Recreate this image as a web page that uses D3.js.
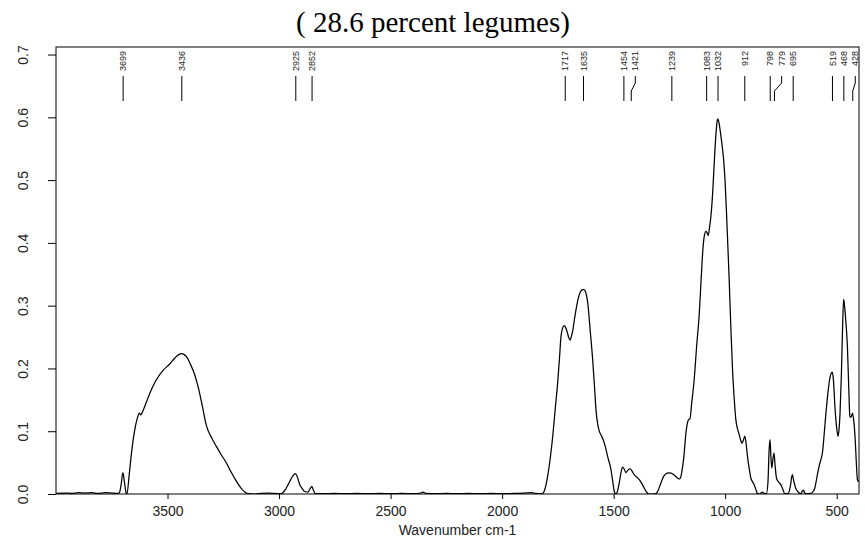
<!DOCTYPE html>
<html>
<head>
<meta charset="utf-8">
<script src="https://cdn.jsdelivr.net/npm/d3@7"></script>
<style>
  html, body { margin: 0; padding: 0; background: #fff; }
  svg { display: block; }
</style>
</head>
<body>
<div id="chart"></div>
<script>
/* Spectrum (wavenumber cm-1, absorbance) */
var wavenumber = [
  4000, 3960, 3930, 3900, 3870, 3840, 3810, 3780, 3750, 3725, 3716, 3708, 3700, 3693, 3686, 3682,
  3672, 3660, 3648, 3636, 3626, 3620, 3612, 3595, 3579, 3550, 3520, 3490, 3467, 3450, 3437, 3425,
  3410, 3400, 3380, 3363, 3345, 3325, 3300, 3281, 3260, 3236, 3215, 3191, 3165, 3139, 3110, 3080,
  3050, 3020, 2995, 2987, 2970, 2952, 2938, 2927, 2918, 2907, 2895, 2885, 2870, 2860, 2853, 2846,
  2837, 2800, 2750, 2700, 2650, 2600, 2550, 2500, 2450, 2400, 2370, 2355, 2340, 2300, 2250, 2200,
  2150, 2100, 2050, 2000, 1950, 1900, 1870, 1850, 1830, 1818, 1808, 1796, 1785, 1773, 1762, 1751,
  1743, 1736, 1728, 1721, 1715, 1709, 1702, 1695, 1689, 1684, 1675, 1666, 1654, 1645, 1639, 1633,
  1627, 1616, 1605, 1594, 1586, 1579, 1571, 1564, 1555, 1546, 1537, 1527, 1512, 1504, 1497, 1490,
  1484, 1475, 1466, 1460, 1453, 1445, 1436, 1427, 1418, 1408, 1396, 1385, 1374, 1363, 1352, 1343,
  1325, 1310, 1300, 1288, 1276, 1265, 1254, 1243, 1232, 1221, 1212, 1206, 1200, 1194, 1185, 1176,
  1168, 1162, 1158, 1150, 1139, 1128, 1116, 1108, 1101, 1094, 1086, 1080, 1076, 1070, 1064, 1056,
  1049, 1042, 1036, 1033, 1028, 1019, 1012, 1007, 1000, 994, 988, 982, 975, 967, 960, 952,
  944, 937, 930, 925, 918, 912, 906, 900, 892, 885, 878, 870, 862, 855, 845, 838,
  833, 826, 815, 808, 803, 799, 795, 791, 786, 781, 776, 770, 760, 750, 742, 733,
  717, 708, 699, 692, 684, 672, 661, 655, 650, 645, 639, 616, 606, 598, 588, 579,
  570, 564, 555, 548, 541, 532, 525, 520, 515, 507, 500, 494, 489, 485, 479, 474,
  469, 465, 459, 452, 446, 441, 436, 429, 424, 417, 412, 407, 402, 400
];
var absorbance = [
  0.001, 0.0015, 0.001, 0.002, 0.0015, 0.002, 0.001, 0.002, 0.0015, 0.001, 0.002, 0.015, 0.034, 0.018, 0.002, 0,
  0.03, 0.07, 0.1, 0.12, 0.129, 0.126, 0.131, 0.146, 0.161, 0.182, 0.197, 0.207, 0.2167, 0.222, 0.2236, 0.222,
  0.216, 0.2087, 0.192, 0.171, 0.142, 0.108, 0.088, 0.0758, 0.063, 0.0494, 0.035, 0.0201, 0.007, 0.0005, 0, 0.001,
  0.0015, 0.001, 0.0005, 0.001, 0.008, 0.02, 0.029, 0.0325, 0.027, 0.0148, 0.008, 0.004, 0.003, 0.009, 0.012, 0.006,
  0.0005, 0.0005, 0.001, 0.0005, 0.001, 0.0005, 0.001, 0.0005, 0.001, 0.0005, 0.001, 0.003, 0.001, 0.0005, 0.001, 0.0005,
  0.001, 0.0005, 0.001, 0.0005, 0.001, 0.0015, 0.002, 0.001, 0.0005, 0.001, 0.008, 0.028, 0.055, 0.092, 0.135, 0.177,
  0.215, 0.251, 0.265, 0.268, 0.265, 0.259, 0.25, 0.245, 0.252, 0.259, 0.28, 0.299, 0.3175, 0.324, 0.3255, 0.3255,
  0.323, 0.304, 0.26, 0.214, 0.172, 0.134, 0.11, 0.0998, 0.093, 0.0855, 0.075, 0.06, 0.0387, 0.02, 0.004, 0,
  0.003, 0.0175, 0.036, 0.043, 0.04, 0.034, 0.038, 0.04, 0.037, 0.0307, 0.027, 0.0228, 0.017, 0.0096, 0.003, 0,
  0, 0.0005, 0.006, 0.0175, 0.028, 0.0323, 0.0335, 0.0334, 0.031, 0.028, 0.025, 0.024, 0.026, 0.036, 0.06, 0.097,
  0.115, 0.119, 0.1195, 0.145, 0.182, 0.235, 0.288, 0.34, 0.384, 0.41, 0.4185, 0.415, 0.4116, 0.425, 0.442, 0.48,
  0.527, 0.57, 0.594, 0.5975, 0.592, 0.57, 0.55, 0.533, 0.495, 0.448, 0.395, 0.3415, 0.27, 0.198, 0.155, 0.118,
  0.103, 0.0945, 0.085, 0.081, 0.086, 0.092, 0.08, 0.06, 0.04, 0.0255, 0.02, 0.0148, 0.007, 0.0005, 0, 0.002,
  0.003, 0.001, 0.0005, 0.02, 0.07, 0.0865, 0.06, 0.0414, 0.055, 0.0653, 0.045, 0.0255, 0.019, 0.0148, 0.008, 0.0005,
  0.001, 0.012, 0.0307, 0.02, 0.0096, 0.003, 0.0005, 0.004, 0.006, 0.003, 0.0005, 0.001, 0.004, 0.0096, 0.028, 0.044,
  0.056, 0.0653, 0.1, 0.13, 0.1555, 0.182, 0.192, 0.194, 0.183, 0.134, 0.105, 0.092, 0.105, 0.129, 0.19, 0.26,
  0.31, 0.3, 0.275, 0.235, 0.17, 0.124, 0.122, 0.129, 0.118, 0.0865, 0.05, 0.0228, 0.02, 0.02
];

/* Labelled peaks */
var peakLabels = [3699, 3436, 2925, 2852, 1717, 1635, 1454, 1421, 1239, 1083, 1032, 912, 798, 779, 695, 519, 468, 428];

var xTicks = [3500, 3000, 2500, 2000, 1500, 1000, 500];
var yTicks = [0.0, 0.1, 0.2, 0.3, 0.4, 0.5, 0.6, 0.7];

var title = '( 28.6 percent legumes)';
var xTitle = 'Wavenumber cm-1';

/* ------------------------------------------------------------------ */

var W = 865, H = 541;
var m = { top: 47, right: 6, bottom: 47, left: 56 };
var innerW = W - m.left - m.right;
var innerH = H - m.top - m.bottom;
var SANS = '"Liberation Sans", Arial, sans-serif';

var x = d3.scaleLinear().domain([4000, 400]).range([0, innerW]);
var y = d3.scaleLinear().domain([0, 0.712]).range([innerH, 0]);

var svg = d3.select('#chart').append('svg')
  .attr('width', W)
  .attr('height', H);

svg.append('text')
  .attr('x', 433)
  .attr('y', 32)
  .attr('text-anchor', 'middle')
  .attr('font-family', '"Liberation Serif", "Times New Roman", serif')
  .attr('font-size', 29)
  .attr('fill', '#000')
  .text(title);

var g = svg.append('g')
  .attr('transform', 'translate(' + m.left + ',' + m.top + ')');

g.append('clipPath').attr('id', 'clip')
  .append('rect').attr('width', innerW).attr('height', innerH);

/* Spectrum */
var pts = wavenumber.map(function (v, i) { return { v: v, a: absorbance[i] }; });
var line = d3.line()
  .x(function (d) { return x(d.v); })
  .y(function (d) { return y(d.a); })
  .curve(d3.curveMonotoneX);

g.append('path')
  .datum(pts)
  .attr('clip-path', 'url(#clip)')
  .attr('d', line)
  .attr('fill', 'none')
  .attr('stroke', '#000')
  .attr('stroke-width', 1.25)
  .attr('stroke-linejoin', 'round');

/* Peak markers: labels pushed right when they would collide */
var MIN_GAP = 11.4;
var lastX = -Infinity;
var marks = peakLabels.map(function (v) {
  var px = x(v);
  var lx = Math.max(px, lastX + MIN_GAP);
  lastX = lx;
  return { v: v, px: px, lx: lx };
});

var mk = g.append('g').attr('class', 'peaks');
mk.selectAll('path')
  .data(marks)
  .join('path')
  .attr('d', function (d) {
    return 'M' + d.px + ',54V44L' + d.lx + ',36V29';
  })
  .attr('fill', 'none')
  .attr('stroke', '#000')
  .attr('stroke-width', 1);

mk.selectAll('text')
  .data(marks)
  .join('text')
  .attr('transform', function (d) { return 'translate(' + (d.lx + 3.2) + ',4) rotate(-90)'; })
  .attr('text-anchor', 'end')
  .attr('font-family', SANS)
  .attr('font-size', 9)
  .attr('fill', '#222')
  .text(function (d) { return d.v; });

/* Axes */
var xAxis = g.append('g')
  .attr('transform', 'translate(0,' + innerH + ')')
  .call(d3.axisBottom(x).tickValues(xTicks).tickSize(5).tickPadding(7).tickFormat(d3.format('d')));
xAxis.selectAll('text')
  .attr('font-family', SANS)
  .attr('font-size', 14)
  .attr('fill', '#222');

var yAxis = g.append('g')
  .call(d3.axisLeft(y).tickValues(yTicks).tickSize(8).tickFormat(d3.format('.1f')));
yAxis.selectAll('text')
  .attr('font-family', SANS)
  .attr('font-size', 14)
  .attr('fill', '#222')
  .attr('text-anchor', 'middle')
  .attr('dy', 0)
  .attr('x', 0)
  .attr('transform', 'translate(-28,0) rotate(-90)');

g.selectAll('.domain').remove();
g.selectAll('.tick line').attr('stroke', '#000');

/* Frame */
g.append('rect')
  .attr('width', innerW)
  .attr('height', innerH)
  .attr('fill', 'none')
  .attr('stroke', '#000')
  .attr('stroke-width', 1);

g.append('text')
  .attr('x', innerW / 2)
  .attr('y', innerH + 41)
  .attr('text-anchor', 'middle')
  .attr('font-family', SANS)
  .attr('font-size', 14)
  .attr('fill', '#222')
  .text(xTitle);
</script>
</body>
</html>
